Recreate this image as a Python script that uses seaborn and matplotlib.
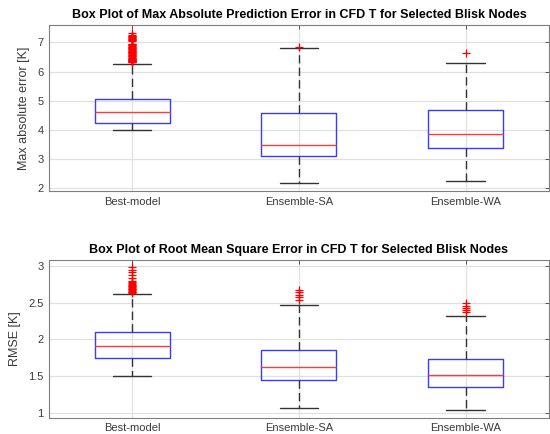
import matplotlib
matplotlib.use("Agg")
import matplotlib.pyplot as plt
import seaborn as sns

# Model labels on the x axis
models = ["Best-model", "Ensemble-SA", "Ensemble-WA"]

# Max absolute prediction error [K]: box statistics per model
mae_q1 = [4.25, 3.11, 3.38]
mae_med = [4.62, 3.48, 3.84]
mae_q3 = [5.07, 4.59, 4.69]
mae_lo = [4.00, 2.17, 2.25]
mae_hi = [6.25, 6.81, 6.31]
mae_out = [
    [6.32, 6.33, 6.34, 6.35, 6.36, 6.37, 6.38, 6.39, 6.40, 6.42, 6.44, 6.46,
     6.48, 6.50, 6.52, 6.54, 6.56, 6.58, 6.60, 6.62, 6.64, 6.66, 6.68, 6.70,
     6.72, 6.74, 6.76, 6.78, 6.80, 6.82, 6.84, 6.86, 6.88, 6.90, 6.92, 6.94,
     6.96, 7.05, 7.07, 7.09, 7.11, 7.13, 7.15, 7.17, 7.19, 7.21, 7.23, 7.25,
     7.31],
    [6.84],
    [6.64],
]

# Root mean square error [K]: box statistics per model
rmse_q1 = [1.75, 1.44, 1.35]
rmse_med = [1.91, 1.63, 1.51]
rmse_q3 = [2.105, 1.86, 1.73]
rmse_lo = [1.50, 1.07, 1.04]
rmse_hi = [2.62, 2.47, 2.32]
rmse_out = [
    [2.63, 2.64, 2.65, 2.66, 2.67, 2.68, 2.69, 2.70, 2.71, 2.72, 2.73, 2.74,
     2.75, 2.76, 2.78, 2.80, 2.83, 2.87, 2.91, 2.945, 2.98],
    [2.53, 2.57, 2.60, 2.64, 2.67],
    [2.37, 2.40, 2.43, 2.46, 2.49],
]

titles = [
    "Box Plot of Max Absolute Prediction Error in CFD T for Selected Blisk Nodes",
    "Box Plot of Root Mean Square Error in CFD T for Selected Blisk Nodes",
]
ylabels = ["Max absolute error [K]", "RMSE [K]"]
yticks = [[2, 3, 4, 5, 6, 7], [1, 1.5, 2, 2.5, 3]]
yticklabels = [["2", "3", "4", "5", "6", "7"], ["1", "1.5", "2", "2.5", "3"]]
ylims = [(1.9, 7.6), (0.93, 3.08)]

sns.set_theme(style="white")
plt.rcParams["font.family"] = ["Liberation Sans", "DejaVu Sans"]

AX_COLOR = "#3a3a3a"
GRID_COLOR = "#e0e0e0"

fig = plt.figure(figsize=(5.5, 4.34), dpi=100)
ax_top = fig.add_axes([0.089, 0.560, 0.909, 0.3825])
ax_bot = fig.add_axes([0.089, 0.037, 0.909, 0.364])


def build_stats(q1, med, q3, lo, hi, out):
    return [
        dict(label=m, q1=a, med=b, q3=c, whislo=d, whishi=e, fliers=f)
        for m, a, b, c, d, e, f in zip(models, q1, med, q3, lo, hi, out)
    ]


panels = [
    build_stats(mae_q1, mae_med, mae_q3, mae_lo, mae_hi, mae_out),
    build_stats(rmse_q1, rmse_med, rmse_q3, rmse_lo, rmse_hi, rmse_out),
]

for i, (ax, stats) in enumerate(zip([ax_top, ax_bot], panels)):
    ax.set_axisbelow(True)
    ax.grid(True, color=GRID_COLOR, linewidth=0.9)
    ax.bxp(
        stats,
        positions=[1, 2, 3],
        widths=0.45,
        showfliers=True,
        boxprops=dict(color="#3b3bff", linewidth=1.0),
        medianprops=dict(color="#ff3b3b", linewidth=1.0),
        whiskerprops=dict(color="#333333", linewidth=1.0, linestyle=(0, (6, 3))),
        capprops=dict(color="#333333", linewidth=1.0),
        capwidths=0.23,
        flierprops=dict(marker="+", markeredgecolor="red", markersize=6,
                        markeredgewidth=0.9, linestyle="none"),
    )
    ax.set_xlim(0.5, 3.5)
    ax.set_ylim(*ylims[i])
    ax.set_xticks([1, 2, 3])
    ax.set_xticklabels(models)
    ax.set_yticks(yticks[i])
    ax.set_yticklabels(yticklabels[i])
    ax.tick_params(axis="both", direction="in", length=3, width=0.6,
                   colors=AX_COLOR, labelsize=8, top=True, right=True,
                   labelcolor=AX_COLOR, pad=4)
    for sp in ax.spines.values():
        sp.set_color("#7f7f7f")
        sp.set_linewidth(0.8)
        sp.set_visible(True)
    ax.set_ylabel(ylabels[i], fontsize=9, color=AX_COLOR, labelpad=5)
    ax.set_title(titles[i], fontsize=9, fontweight="bold", color="black", pad=5)

fig.savefig("out.png", dpi=100)
